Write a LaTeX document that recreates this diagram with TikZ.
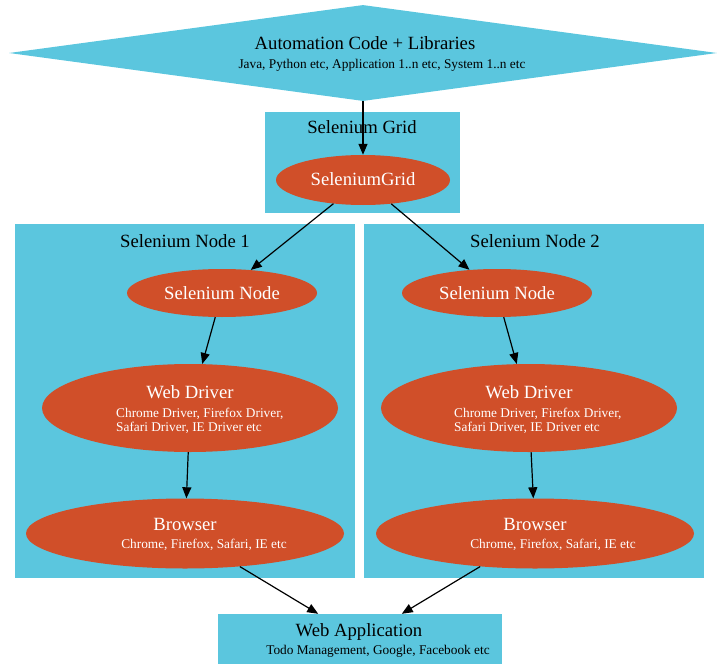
\documentclass[tikz,border=0pt]{standalone}
\usepackage{fontspec}
\setmainfont{Liberation Serif}
\usetikzlibrary{shapes.geometric,arrows.meta}
\definecolor{cyanfill}{RGB}{91,198,222}
\definecolor{redfill}{RGB}{208,79,41}
\tikzset{
  px/.style={x={(1pt,0)},y={(0,-1pt)}},
  cluster/.style={fill=cyanfill,draw=none,inner sep=0pt,rectangle},
  ellnode/.style={ellipse,fill=redfill,draw=none,inner sep=0pt},
  bigtxt/.style={font=\fontsize{18.67}{20}\selectfont,inner sep=0pt,anchor=base},
  smalltxt/.style={font=\fontsize{13.33}{14}\selectfont,inner sep=0pt},
  wtxt/.style={text=white},
  edge/.style={draw=black,line width=1.2pt,-{Triangle[length=11pt,width=9pt]}}
}
\begin{document}
\begin{tikzpicture}[px]
\useasboundingbox (0,0) rectangle (720,669);
% clusters
\node[cluster,minimum width=195pt,minimum height=101pt] (gridcl) at (362.5,162.5) {};
\node[cluster,minimum width=340pt,minimum height=354pt] (n1cl) at (185,401) {};
\node[cluster,minimum width=340pt,minimum height=354pt] (n2cl) at (534,401) {};
\node[bigtxt] (gridlbl) at (362,133) {Selenium Grid};
\node[bigtxt] (n1lbl) at (185,247) {Selenium Node 1};
\node[bigtxt] (n2lbl) at (535,247) {Selenium Node 2};
% top diamond
\node[diamond,fill=cyanfill,draw=none,inner sep=0pt,minimum width=708pt,minimum height=96pt] (code) at (363,53) {};
\node[bigtxt] (codet) at (365,50) {Automation Code + Libraries};
\node[smalltxt,anchor=base] (codes) at (382,68) {Java, Python etc, Application 1..n etc, System 1..n etc};
% grid
\node[ellnode,minimum width=174pt,minimum height=50pt] (grid) at (363,180) {};
\node[bigtxt,wtxt] (gridt) at (363,185) {SeleniumGrid};
% node 1
\node[ellnode,minimum width=190pt,minimum height=48pt] (sn1) at (222,293) {};
\node[bigtxt,wtxt] (sn1t) at (222,299) {Selenium Node};
\node[ellnode,minimum width=296pt,minimum height=88pt] (wd1) at (190,408) {};
\node[bigtxt,wtxt] (wd1t) at (190,398) {Web Driver};
\node[smalltxt,wtxt,anchor=base west] (wd1a) at (116,417) {Chrome Driver, Firefox Driver,};
\node[smalltxt,wtxt,anchor=base west] (wd1b) at (116,431) {Safari Driver, IE Driver etc};
\node[ellnode,minimum width=318pt,minimum height=70pt] (br1) at (185,533.5) {};
\node[bigtxt,wtxt] (br1t) at (185,530) {Browser};
\node[smalltxt,wtxt,anchor=base] (br1s) at (204,548) {Chrome, Firefox, Safari, IE etc};
% node 2
\node[ellnode,minimum width=190pt,minimum height=48pt] (sn2) at (497,293) {};
\node[bigtxt,wtxt] (sn2t) at (497,299) {Selenium Node};
\node[ellnode,minimum width=296pt,minimum height=88pt] (wd2) at (529,408) {};
\node[bigtxt,wtxt] (wd2t) at (529,398) {Web Driver};
\node[smalltxt,wtxt,anchor=base west] (wd2a) at (454,417) {Chrome Driver, Firefox Driver,};
\node[smalltxt,wtxt,anchor=base west] (wd2b) at (454,431) {Safari Driver, IE Driver etc};
\node[ellnode,minimum width=318pt,minimum height=70pt] (br2) at (535,533.5) {};
\node[bigtxt,wtxt] (br2t) at (535,530) {Browser};
\node[smalltxt,wtxt,anchor=base] (br2s) at (553,548) {Chrome, Firefox, Safari, IE etc};
% web application
\node[cluster,minimum width=284pt,minimum height=50pt] (webapp) at (360,639) {};
\node[bigtxt] (webappt) at (359,636) {Web Application};
\node[smalltxt,anchor=base] (webapps) at (378,654) {Todo Management, Google, Facebook etc};
% edges
\draw[edge] (code) -- (grid);
\draw[edge] (grid) -- (sn1);
\draw[edge] (grid) -- (sn2);
\draw[edge] (sn1) -- (wd1);
\draw[edge] (wd1) -- (br1);
\draw[edge] (sn2) -- (wd2);
\draw[edge] (wd2) -- (br2);
\draw[edge] (br1) -- (webapp);
\draw[edge] (br2) -- (webapp);
\end{tikzpicture}
\end{document}
